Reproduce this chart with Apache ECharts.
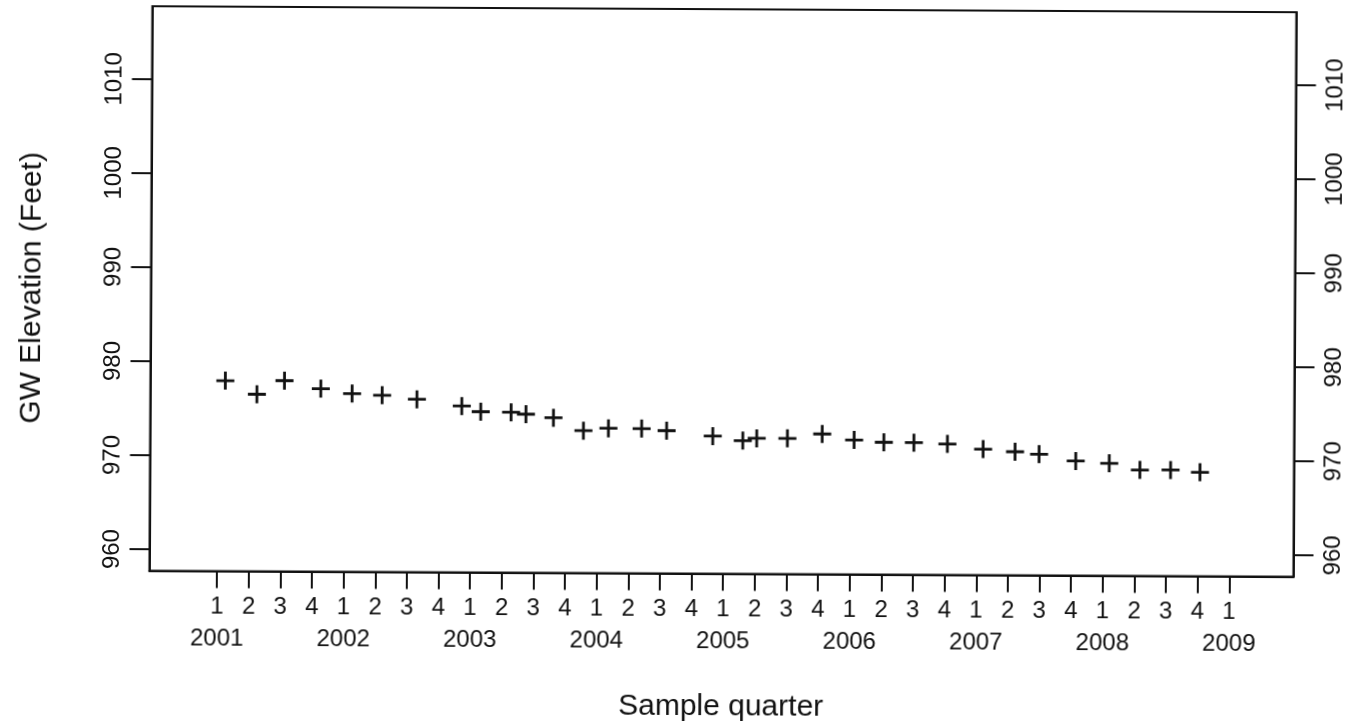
<!DOCTYPE html>
<html>
<head>
<meta charset="utf-8">
<title>GW Elevation by Sample Quarter</title>
<script src="https://cdn.jsdelivr.net/npm/echarts@6/dist/echarts.min.js"></script>
<style>
  html, body { margin: 0; padding: 0; background: #fff; overflow: hidden; }
  #chart {
    width: 1364px; height: 721px;
    /* slight skew of the scanned sheet */
    transform: rotate(0.3deg);
    transform-origin: 50% 50%;
  }
</style>
</head>
<body>
<div id="chart"></div>
<script>
// Sample position, in quarters counted from 2001 Q1 (0 = 2001 Q1)
const quarterPos = [
  0.23, 1.23, 2.10, 3.25, 4.24, 5.19, 6.29, 7.71, 8.31, 9.27, 9.74,
  10.61, 11.56, 12.35, 13.40, 14.19, 15.65, 16.60, 17.04, 18.01, 19.11,
  20.12, 21.06, 22.01, 23.07, 24.20, 25.21, 25.97, 27.13, 28.19, 29.16,
  30.13, 31.06
];
// Groundwater elevation (feet)
const gwElevation = [
  977.97, 976.54, 978.00, 977.17, 976.66, 976.50, 976.10, 975.40, 974.81, 974.77, 974.57,
  974.21, 972.85, 973.12, 973.10, 972.90, 972.35, 971.88, 972.14, 972.15, 972.63,
  972.01, 971.78, 971.76, 971.64, 971.11, 970.85, 970.60, 969.90, 969.67, 968.98,
  969.00, 968.77
];
// Axis ticks
const elevationTicks = [960, 970, 980, 990, 1000, 1010];
const quarterNames = ['1', '2', '3', '4'];
const yearNames = ['2001', '2002', '2003', '2004', '2005', '2006', '2007', '2008', '2009'];

// quarter tick categories: 2001 Q1 ... 2009 Q1
const quarterCategories = [];
for (let y = 0; y < yearNames.length; y++) {
  for (let q = 0; q < quarterNames.length; q++) {
    if (y === yearNames.length - 1 && q > 0) break;
    quarterCategories.push({ q: quarterNames[q], year: q === 0 ? yearNames[y] : '' });
  }
}

const FONT = '"Liberation Sans", Arial, Helvetica, sans-serif';
const INK = '#111';

// value range of the plot box (quarters / feet)
const X_MIN = -2.14, X_MAX = 34.03;
const Y_MIN = 957.72, Y_MAX = 1017.74;

// plot box in pixels
const BOX = { left: 150.5, right: 1294.5, top: 9, bottom: 573.5 };
const pxPerQuarter = (BOX.right - BOX.left) / (X_MAX - X_MIN);
const tickLeft = BOX.left + (0 - X_MIN) * pxPerQuarter;
const tickWidth = (quarterCategories.length - 1) * pxPerQuarter;

// plus-sign marker, filled cross
const plusPath = 'path://M7.6,0 H10.4 V7.6 H18 V10.4 H10.4 V18 H7.6 V10.4 H0 V7.6 H7.6 Z';

const points = quarterPos.map((q, i) => [q, gwElevation[i]]);

function yAxisDef(pos, margin) {
  return {
    type: 'value',
    gridIndex: 0,
    position: pos,
    min: Y_MIN,
    max: Y_MAX,
    splitLine: { show: false },
    axisLine: { show: true, onZero: false, lineStyle: { color: INK, width: 2 } },
    axisTick: {
      show: true, inside: false, length: 20,
      customValues: elevationTicks,
      lineStyle: { color: INK, width: 2 }
    },
    axisLabel: {
      customValues: elevationTicks,
      rotate: 90,
      margin: margin,
      color: INK,
      fontFamily: FONT,
      fontSize: 24,
      formatter: function (v) { return String(v); }
    }
  };
}

const chart = echarts.init(document.getElementById('chart'), null, { renderer: 'canvas' });
chart.setOption({
  backgroundColor: '#fff',
  animation: false,
  grid: [
    {
      left: BOX.left, right: 1364 - BOX.right, top: BOX.top, bottom: 721 - BOX.bottom,
      containLabel: false, outerBoundsMode: 'none',
      show: true, borderColor: INK, borderWidth: 2, backgroundColor: 'transparent'
    },
    {
      // spans 2001 Q1 .. 2009 Q1 for the quarter ticks
      left: tickLeft, width: tickWidth, top: BOX.top, bottom: 721 - BOX.bottom,
      containLabel: false, outerBoundsMode: 'none',
      show: false
    }
  ],
  xAxis: [
    {
      type: 'value',
      gridIndex: 0,
      min: X_MIN,
      max: X_MAX,
      name: 'Sample quarter',
      nameLocation: 'middle',
      nameGap: 118,
      nameTextStyle: { color: INK, fontFamily: FONT, fontSize: 30 },
      splitLine: { show: false },
      axisLine: { show: true, onZero: false, lineStyle: { color: INK, width: 2 } },
      axisTick: { show: false },
      axisLabel: { show: false }
    },
    {
      type: 'category',
      gridIndex: 1,
      data: quarterCategories.map(c => c.q),
      boundaryGap: false,
      splitLine: { show: false },
      axisLine: { show: false, onZero: false },
      axisTick: {
        show: true, inside: false, length: 17, interval: 0,
        lineStyle: { color: INK, width: 2 }
      },
      axisLabel: {
        interval: 0,
        margin: 20,
        color: INK,
        fontFamily: FONT,
        formatter: function (value, idx) {
          const c = quarterCategories[idx];
          return c.year ? '{q|' + c.q + '}\n{y|' + c.year + '}' : '{q|' + c.q + '}';
        },
        rich: {
          q: { fontSize: 24, fontFamily: FONT, color: INK, lineHeight: 32 },
          y: { fontSize: 24, fontFamily: FONT, color: INK, lineHeight: 32 }
        }
      }
    }
  ],
  yAxis: [
    Object.assign(yAxisDef('left', 25), {
      name: 'GW Elevation (Feet)',
      nameLocation: 'middle',
      nameRotate: 90,
      nameGap: 104,
      nameTextStyle: { color: INK, fontFamily: FONT, fontSize: 30 }
    }),
    yAxisDef('right', 28),
    { type: 'value', gridIndex: 1, show: false, min: Y_MIN, max: Y_MAX }
  ],
  series: [{
    type: 'scatter',
    xAxisIndex: 0,
    yAxisIndex: 0,
    data: points,
    symbol: plusPath,
    symbolSize: 18,
    itemStyle: { color: INK, opacity: 1 },
    silent: true
  }]
});
</script>
</body>
</html>
